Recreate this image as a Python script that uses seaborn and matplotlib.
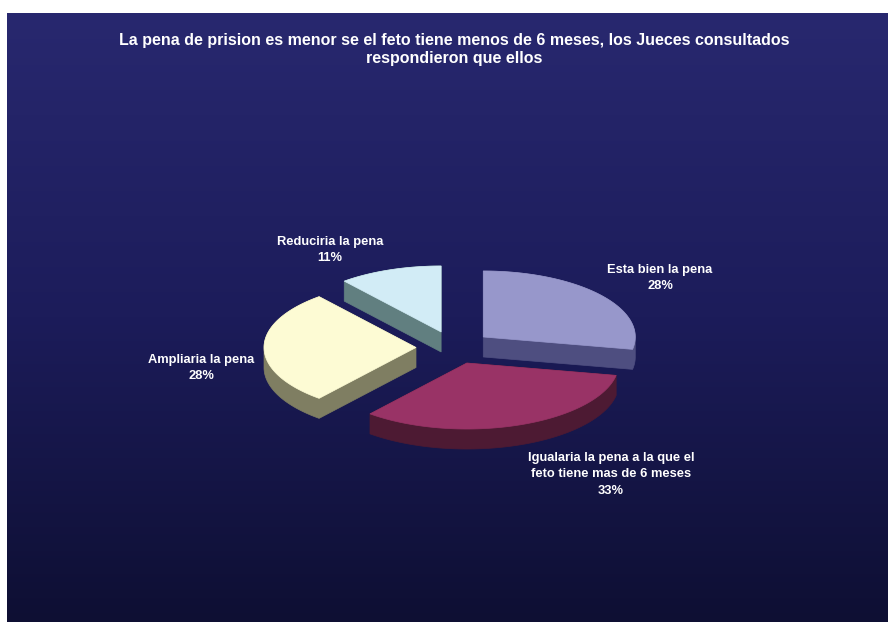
import numpy as np
import matplotlib
matplotlib.use("Agg")
import matplotlib.pyplot as plt
import seaborn as sns
from matplotlib.patches import Polygon
from matplotlib.colors import LinearSegmentedColormap

# Survey answers, clockwise from 12 o'clock
categories = [
    "Esta bien la pena",
    "Igualaria la pena a la que el\nfeto tiene mas de 6 meses",
    "Ampliaria la pena",
    "Reduciria la pena",
]
percentages = [28, 33, 28, 11]

title = ("La pena de prision es menor se el feto tiene menos de 6 meses, los Jueces consultados\n"
         "respondieron que ellos")

top_colors = ["#9797cb", "#993366", "#fdfbd4", "#d2ecf6"]
side_colors = ["#4e4e80", "#4d1a33", "#7f7e62", "#617f80"]
label_xy = [(660, 278), (611, 474), (201, 368), (330, 250)]

sns.set_style("white")
plt.rcParams["font.family"] = ["Liberation Sans", "DejaVu Sans"]

fig = plt.figure(figsize=(8.88, 6.22), dpi=100)
ax = fig.add_axes([0, 0, 1, 1])

# gradient backdrop
grad = np.linspace(0, 1, 256).reshape(-1, 1)
cmap = LinearSegmentedColormap.from_list("bg", ["#28286f", "#1c1c5a", "#0e0f33"])
ax.imshow(grad, cmap=cmap, extent=(7, 888, 622, 13), aspect="auto", zorder=0)
ax.set_xlim(0, 888)
ax.set_ylim(622, 0)
ax.axis("off")

# tilted, exploded 3-D pie
cx, cy = 454.0, 347.5
rx, ry = 152.0, 66.0
depth = 20.0
explode = 0.25


def hull(points):
    pts = sorted(set(map(tuple, np.round(points, 4))))

    def cross(o, a, b):
        return (a[0] - o[0]) * (b[1] - o[1]) - (a[1] - o[1]) * (b[0] - o[0])

    lower, upper = [], []
    for p in pts:
        while len(lower) >= 2 and cross(lower[-2], lower[-1], p) <= 0:
            lower.pop()
        lower.append(p)
    for p in reversed(pts):
        while len(upper) >= 2 and cross(upper[-2], upper[-1], p) <= 0:
            upper.pop()
        upper.append(p)
    return np.array(lower[:-1] + upper[:-1])


fractions = np.array(percentages, dtype=float) / sum(percentages)
bounds = np.concatenate([[0], np.cumsum(fractions)]) * 2 * np.pi

slices = []
for i, frac in enumerate(fractions):
    t1, t2 = bounds[i], bounds[i + 1]
    tm = 0.5 * (t1 + t2)
    ox = cx + explode * rx * np.sin(tm)
    oy = cy - explode * ry * np.cos(tm)
    t = np.linspace(t1, t2, 80)
    arc = np.column_stack([ox + rx * np.sin(t), oy - ry * np.cos(t)])
    top = np.vstack([[ox, oy], arc])
    bottom = top + np.array([0, depth])
    slices.append((top[:, 1].mean(), i, top, bottom))

for _, i, top, bottom in sorted(slices):
    solid = hull(np.vstack([top, bottom]))
    ax.add_patch(Polygon(solid, closed=True, facecolor=side_colors[i],
                         edgecolor=side_colors[i], lw=0.5, zorder=2))
    ax.add_patch(Polygon(top, closed=True, facecolor=top_colors[i],
                         edgecolor=top_colors[i], lw=0.5, zorder=3))

for cat, pct, (x, y) in zip(categories, percentages, label_xy):
    ax.text(x, y, f"{cat}\n{pct}%", ha="center", va="center", color="white",
            fontsize=9.3, fontweight="bold", linespacing=1.5, zorder=5)

ax.text(454, 49.5, title, ha="center", va="center", color="white",
        fontsize=11.5, fontweight="bold", linespacing=1.3, zorder=5)

fig.savefig("out.png", dpi=100, facecolor="white")
